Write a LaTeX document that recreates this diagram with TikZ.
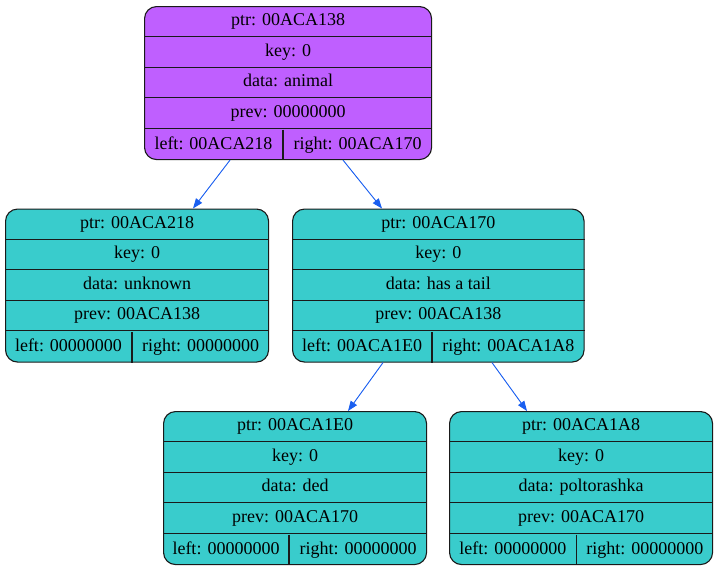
\documentclass[tikz,border=0pt]{standalone}
\usepackage{fontspec}
\setmainfont{Liberation Serif}
\usetikzlibrary{arrows.meta,calc}

\definecolor{rootfill}{HTML}{BF5FFF}
\definecolor{leaffill}{HTML}{39CCCC}
\definecolor{edgeblue}{HTML}{1A5FF0}
\definecolor{rulecol}{HTML}{1A1A1A}

\tikzset{
  recbox/.style={draw=rulecol, line width=1.1pt, rounded corners=12pt,
                 inner sep=0pt, minimum height=153pt, anchor=north west},
  rowrule/.style={draw=rulecol, line width=1.1pt},
  celltext/.style={inner sep=0pt, text height=12.5pt, text depth=4pt,
                   font=\fontsize{18}{20}\selectfont},
  link/.style={draw=edgeblue, line width=0.9pt,
               -{Triangle[length=10pt,width=7.5pt]}, fill=edgeblue},
}

% Box of a tree record: name, left x, top y, width, split offset, fill colour
\newcommand{\recordbox}[6]{%
  \node[recbox, fill=#6, minimum width=#4pt] (#1) at (#2,#3) {};
  \foreach \k in {1,2,3,4}{%
    \draw[rowrule] ([yshift=-30.6*\k pt]#1.north west) -- ([yshift=-30.6*\k pt]#1.north east);
  }
  \coordinate (#1-split) at ([xshift=#5pt]#1.south west);
  \draw[rowrule] ([yshift=30.6pt]#1-split) -- (#1-split);
}

% Fields of a tree record: name, ptr, data, prev, left, right
\newcommand{\recordtext}[6]{%
  \node[celltext] (#1-ptr)  at ([yshift=-15.3pt]#1.north) {ptr: #2};
  \node[celltext] (#1-key)  at ([yshift=-45.9pt]#1.north) {key: 0};
  \node[celltext] (#1-data) at ([yshift=-76.5pt]#1.north) {data: #3};
  \node[celltext] (#1-prev) at ([yshift=-107.1pt]#1.north) {prev: #4};
  \node[celltext] (#1-left)  at ([yshift=15.3pt]$(#1.south west)!0.5!(#1-split)$) {left: #5};
  \node[celltext] (#1-right) at ([yshift=15.3pt]$(#1-split)!0.5!(#1.south east)$) {right: #6};
}

\begin{document}
\begin{tikzpicture}[x=1pt,y=-1pt]
  \useasboundingbox (0,0) rectangle (717,571);

  \recordbox{root}{144}{6}{287}{139}{rootfill}
  \recordtext{root}{00ACA138}{animal}{00000000}{00ACA218}{00ACA170}

  \recordbox{n218}{5}{208.5}{263}{127}{leaffill}
  \recordtext{n218}{00ACA218}{unknown}{00ACA138}{00000000}{00000000}

  \recordbox{n170}{292}{208.5}{291.5}{140}{leaffill}
  \recordtext{n170}{00ACA170}{has a tail}{00ACA138}{00ACA1E0}{00ACA1A8}

  \recordbox{n1e0}{163}{411}{263}{126}{leaffill}
  \recordtext{n1e0}{00ACA1E0}{ded}{00ACA170}{00000000}{00000000}

  \recordbox{n1a8}{449}{411}{263}{127.5}{leaffill}
  \recordtext{n1a8}{00ACA1A8}{poltorashka}{00ACA170}{00000000}{00000000}

  % parent-child links
  \draw[link] ([xshift=86pt]root.south west) -- ([xshift=188pt]n218.north west);
  \draw[link] ([xshift=199pt]root.south west) -- ([xshift=90pt]n170.north west);
  \draw[link] ([xshift=91pt]n170.south west) -- ([xshift=185pt]n1e0.north west);
  \draw[link] ([xshift=200pt]n170.south west) -- ([xshift=78pt]n1a8.north west);
\end{tikzpicture}
\end{document}
